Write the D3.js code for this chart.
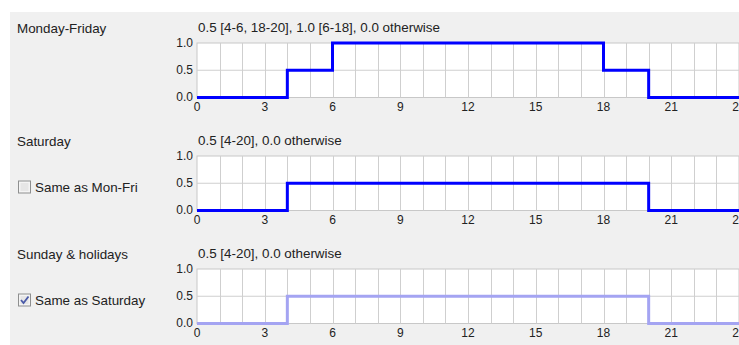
<!DOCTYPE html>
<html><head><meta charset="utf-8">
<script src="https://cdn.jsdelivr.net/npm/d3@7"></script>
<style>
html,body{margin:0;padding:0;background:#fff;}
svg{display:block;font-family:"Liberation Sans",Arial,sans-serif;}
</style></head>
<body>
<script>
// ---- data ----
const hours = d3.range(0, 25);              // 0..24
const xTicks = [0, 3, 6, 9, 12, 15, 18, 21, 24];
const yTicks = [0, 0.5, 1.0];
const yTickLabels = ["0.0", "0.5", "1.0"];
const panelNames = ["Monday-Friday", "Saturday", "Sunday & holidays"];
const panelTitles = ["0.5 [4-6, 18-20], 1.0 [6-18], 0.0 otherwise", "0.5 [4-20], 0.0 otherwise", "0.5 [4-20], 0.0 otherwise"];
const checkLabels = [null, "Same as Mon-Fri", "Same as Saturday"];
const checkStates = [null, false, true];
// hourly values (value from hour h to h+1), last entry repeats for hour 24
const monFri   = [0,0,0,0,0.5,0.5,1,1,1,1,1,1,1,1,1,1,1,1,0.5,0.5,0,0,0,0,0];
const saturday = [0,0,0,0,0.5,0.5,0.5,0.5,0.5,0.5,0.5,0.5,0.5,0.5,0.5,0.5,0.5,0.5,0.5,0.5,0,0,0,0,0];
const sunday   = [0,0,0,0,0.5,0.5,0.5,0.5,0.5,0.5,0.5,0.5,0.5,0.5,0.5,0.5,0.5,0.5,0.5,0.5,0,0,0,0,0];
const seriesList = [monFri, saturday, sunday];
const enabled = [true, true, false];

// ---- layout ----
const W = 739, H = 345;
const LF = 13.4;   // label font size
const TF = 12;     // tick font size
const svg = d3.select("body").append("svg").attr("width", W).attr("height", H);
svg.append("rect").attr("x", 10).attr("y", 12).attr("width", W - 10).attr("height", H - 12).attr("fill", "#f0f0f0");

const x = d3.scaleLinear().domain([0, 24]).range([197, 739]);
const tops = [43, 156, 269];
const ph = 54.5;

panelNames.forEach((name, i) => {
  const top = tops[i];
  const y = d3.scaleLinear().domain([0, 1]).range([top + ph, top]);
  const g = svg.append("g");

  g.append("text").attr("x", 17).attr("y", top - 10).attr("font-size", LF).attr("fill", "#222").text(name);
  g.append("text").attr("x", 198).attr("y", top - 11.5).attr("font-size", LF).attr("fill", "#222").text(panelTitles[i]);

  // plot area
  g.append("rect").attr("x", x(0)).attr("y", y(1)).attr("width", x(24) - x(0)).attr("height", y(0) - y(1))
    .attr("fill", "#fff").attr("stroke", "#c8c8c8").attr("stroke-width", 1);
  // vertical grid
  g.selectAll(".vg").data(hours.slice(1, 24)).enter().append("line")
    .attr("x1", d => Math.round(x(d)) + 0.5).attr("x2", d => Math.round(x(d)) + 0.5)
    .attr("y1", y(1)).attr("y2", y(0)).attr("stroke", "#cfcfcf");
  // horizontal grid
  g.selectAll(".hg").data([0.5]).enter().append("line")
    .attr("x1", x(0)).attr("x2", x(24)).attr("y1", d => y(d)).attr("y2", d => y(d)).attr("stroke", "#cfcfcf");

  // y tick labels
  g.selectAll(".yt").data(yTicks).enter().append("text")
    .attr("x", 193).attr("y", d => y(d) + 3.5).attr("text-anchor", "end")
    .attr("font-size", TF).attr("fill", "#222").text((d, k) => yTickLabels[k]);
  // x tick labels
  g.selectAll(".xt").data(xTicks).enter().append("text")
    .attr("x", d => x(d)).attr("y", y(0) + 13.5).attr("text-anchor", "middle")
    .attr("font-size", TF).attr("fill", "#222").text(d => d);

  // step line
  const line = d3.line().x((d, k) => x(hours[k])).y(d => y(d)).curve(d3.curveStepAfter);
  g.append("path").datum(seriesList[i]).attr("d", line).attr("fill", "none")
    .attr("stroke", enabled[i] ? "#0000ff" : "#a4a4f2").attr("stroke-width", 3);

  // checkbox
  if (checkLabels[i]) {
    const cy = top + 25;
    const cb = g.append("g").attr("transform", `translate(18.5,${cy})`);
    cb.append("rect").attr("width", 12).attr("height", 12).attr("fill", "#f4f4f4").attr("stroke", "#8e8f8f");
    cb.append("rect").attr("x", 2).attr("y", 2).attr("width", 8).attr("height", 8).attr("fill", "#e6e6e6");
    if (checkStates[i]) {
      cb.append("path").attr("d", "M2.5,6 L5,9 L10,2.5").attr("fill", "none").attr("stroke", "#4a5aa8").attr("stroke-width", 1.8);
    }
    g.append("text").attr("x", 35).attr("y", cy + 10.5).attr("font-size", LF).attr("fill", "#222").text(checkLabels[i]);
  }
});
</script>
</body></html>
